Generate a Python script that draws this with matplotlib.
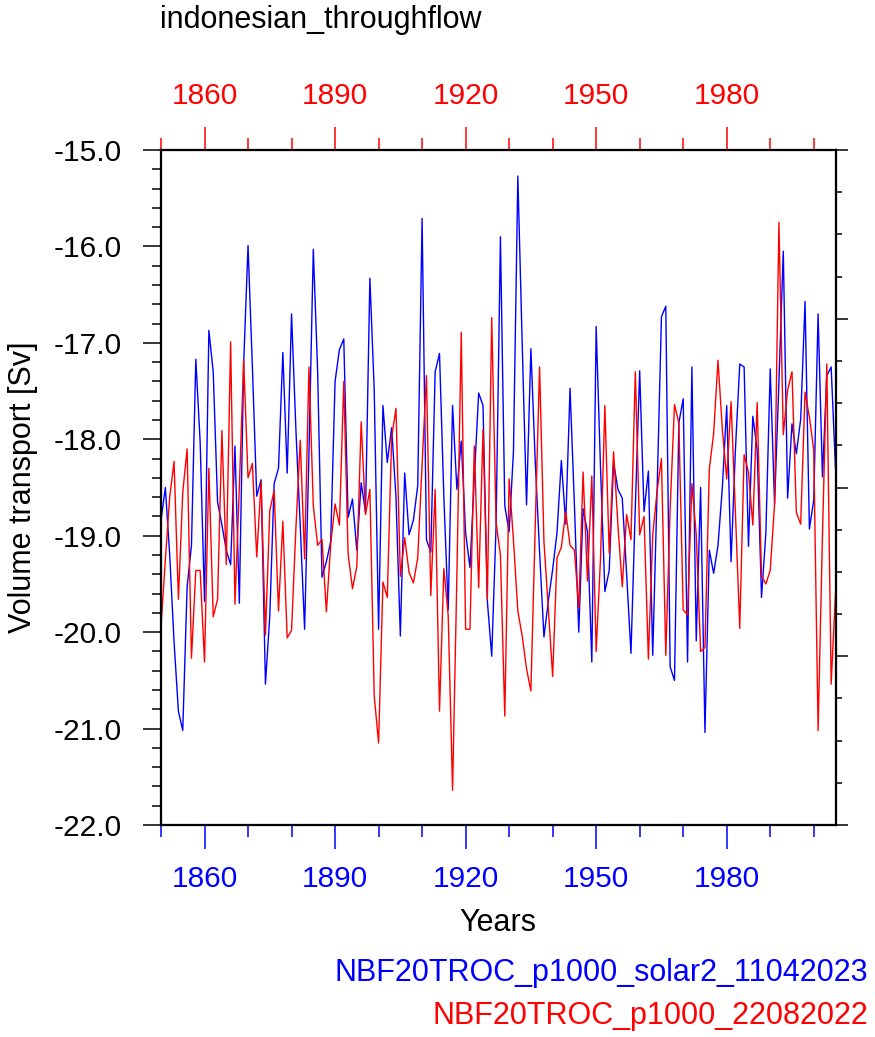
import numpy as np
import matplotlib
matplotlib.use('Agg')
import matplotlib.pyplot as plt
from matplotlib.ticker import MultipleLocator, FixedLocator

plt.rcParams['font.family'] = ['Liberation Sans', 'DejaVu Sans']

# annual values, 1850-2005
years = np.arange(1850, 2006)

solar2 = [
    -18.84, -18.50, -19.20, -20.10, -20.82, -21.02, -19.53, -19.10, -17.17, -18.03,
    -19.68, -16.87, -17.30, -18.65, -18.89, -19.15, -19.30, -18.07, -19.70, -17.21,
    -15.99, -17.25, -18.59, -18.42, -20.54, -19.83, -18.46, -18.30, -17.10, -18.35,
    -16.70, -17.90, -18.90, -19.97, -18.14, -16.03, -17.30, -19.43, -19.27, -19.06,
    -17.40, -17.07, -16.96, -18.81, -18.62, -19.15, -18.45, -18.76, -16.33, -17.49,
    -19.97, -17.65, -18.24, -17.88, -18.60, -20.04, -18.35, -18.99, -18.84, -18.48,
    -15.71, -19.04, -19.17, -17.30, -17.11, -18.60, -19.77, -17.65, -18.52, -18.02,
    -18.97, -19.33, -18.40, -17.52, -17.65, -19.68, -20.25, -18.90, -15.90, -18.69,
    -18.96, -18.12, -15.27, -17.00, -18.68, -17.06, -18.23, -19.17, -20.05, -19.68,
    -19.35, -18.97, -18.22, -18.88, -17.47, -18.68, -20.00, -18.72, -18.96, -20.31,
    -16.83, -18.30, -19.58, -19.36, -18.24, -18.52, -18.61, -19.40, -20.22, -18.70,
    -17.29, -18.75, -18.33, -20.24, -18.54, -16.73, -16.62, -20.36, -20.50, -17.83,
    -17.58, -20.31, -17.25, -20.09, -18.50, -21.04, -19.15, -19.39, -19.10, -18.50,
    -17.65, -19.27, -18.11, -17.22, -17.25, -19.11, -17.76, -18.11, -19.64, -18.97,
    -17.27, -18.67, -17.40, -16.05, -18.61, -17.84, -18.15, -17.79, -16.57, -18.93,
    -18.63, -16.70, -18.39, -17.34, -17.25, -18.30,
]

ctrl = [
    -19.94, -19.25, -18.60, -18.23, -19.66, -18.55, -18.10, -20.27, -19.36, -19.36,
    -20.31, -18.30, -19.84, -19.66, -17.91, -19.30, -16.99, -19.71, -18.50, -17.18,
    -18.40, -18.25, -19.22, -18.44, -20.03, -18.74, -18.53, -19.78, -18.85, -20.06,
    -19.98, -18.92, -18.01, -19.24, -17.25, -18.69, -19.10, -19.04, -19.79, -19.09,
    -18.67, -18.89, -17.40, -19.19, -19.55, -19.32, -17.82, -18.78, -18.52, -20.66,
    -21.15, -19.48, -19.64, -17.98, -17.68, -19.42, -19.02, -19.38, -19.49, -19.23,
    -18.26, -17.34, -19.62, -18.52, -20.82, -19.34, -19.83, -21.64, -19.40, -16.89,
    -19.97, -19.97, -18.07, -19.54, -17.90, -19.66, -16.74, -18.86, -19.20, -20.87,
    -18.41, -19.05, -19.78, -20.04, -20.38, -20.61, -18.90, -17.25, -19.06, -19.75,
    -20.46, -19.23, -19.12, -18.75, -19.10, -19.15, -19.75, -18.34, -19.47, -18.38,
    -20.20, -19.23, -17.65, -19.18, -18.13, -18.89, -19.53, -18.78, -19.04, -17.30,
    -18.99, -18.80, -20.28, -18.99, -18.54, -18.20, -20.24, -18.72, -17.64, -17.83,
    -19.77, -19.82, -18.46, -18.99, -20.20, -20.16, -18.31, -17.94, -17.18, -17.90,
    -18.41, -17.61, -18.76, -19.96, -18.16, -18.34, -18.89, -17.62, -19.42, -19.50,
    -19.36, -18.67, -15.75, -17.95, -17.49, -17.30, -18.76, -18.88, -17.51, -17.77,
    -18.11, -21.02, -19.00, -17.22, -20.54, -19.60,
]

year_ticks = [1860, 1890, 1920, 1950, 1980]
y_ticks = [-22.0, -21.0, -20.0, -19.0, -18.0, -17.0, -16.0, -15.0]

W, H = 875, 1037
fig = plt.figure(figsize=(W / 100, H / 100), dpi=100)
ax = fig.add_axes([161 / W, 1 - 825 / H, 674.5 / W, 675 / H])

ax.plot(years, solar2, color='blue', lw=1.0)
ax.plot(years, ctrl, color='red', lw=1.0)

ax.set_xlim(1850, 2005)
ax.set_ylim(-22, -15)

fs = 21.5
ax.set_yticks(y_ticks)
ax.set_yticklabels(['%.1f' % v for v in y_ticks], fontsize=fs)
ax.yaxis.set_minor_locator(MultipleLocator(0.2))
ax.set_xticks(year_ticks)
ax.set_xticklabels([str(y) for y in year_ticks], fontsize=fs, color='blue')
ax.xaxis.set_minor_locator(MultipleLocator(10))

ax.tick_params(axis='y', which='major', direction='out', length=13, width=1.1, pad=15.5)
ax.tick_params(axis='y', which='minor', direction='out', length=6.5, width=1.1)
ax.tick_params(axis='x', which='major', direction='out', length=17.6, width=1.1,
               color='blue', pad=11.5)
ax.tick_params(axis='x', which='minor', direction='out', length=8.6, width=1.1, color='blue')

# top axis (red)
axt = ax.twiny()
axt.set_xlim(1850, 2005)
axt.set_xticks(year_ticks)
axt.set_xticklabels([str(y) for y in year_ticks], fontsize=fs, color='red')
axt.xaxis.set_minor_locator(MultipleLocator(10))
axt.tick_params(axis='x', which='major', direction='out', length=16.5, width=1.1,
                color='red', pad=12)
axt.tick_params(axis='x', which='minor', direction='out', length=8.3, width=1.1, color='red')

# right axis, ticks only
axr = ax.twinx()
axr.set_ylim(0, 4)
axr.yaxis.set_major_locator(FixedLocator([0, 1, 2, 3, 4]))
axr.yaxis.set_minor_locator(MultipleLocator(0.25))
axr.set_yticklabels([])
axr.tick_params(axis='y', which='major', direction='out', length=8.6, width=1.1)
axr.tick_params(axis='y', which='minor', direction='out', length=4.3, width=1.1)

for a in (ax, axt, axr):
    for s in a.spines.values():
        s.set_linewidth(1.5)

fig.text(160 / W, 1 - 28 / H, 'indonesian_throughflow', fontsize=22,
         ha='left', va='baseline')
fig.text(498 / W, 1 - 931 / H, 'Years', fontsize=22, ha='center', va='baseline')
fig.text(23 / W, 1 - 487.5 / H, 'Volume transport [Sv]', fontsize=22,
         rotation=90, ha='center', va='center')
fig.text(868 / W, 1 - 981 / H, 'NBF20TROC_p1000_solar2_11042023', fontsize=22,
         color='blue', ha='right', va='baseline')
fig.text(868 / W, 1 - 1024 / H, 'NBF20TROC_p1000_22082022', fontsize=22,
         color='red', ha='right', va='baseline')

fig.savefig('out.png', dpi=100)
